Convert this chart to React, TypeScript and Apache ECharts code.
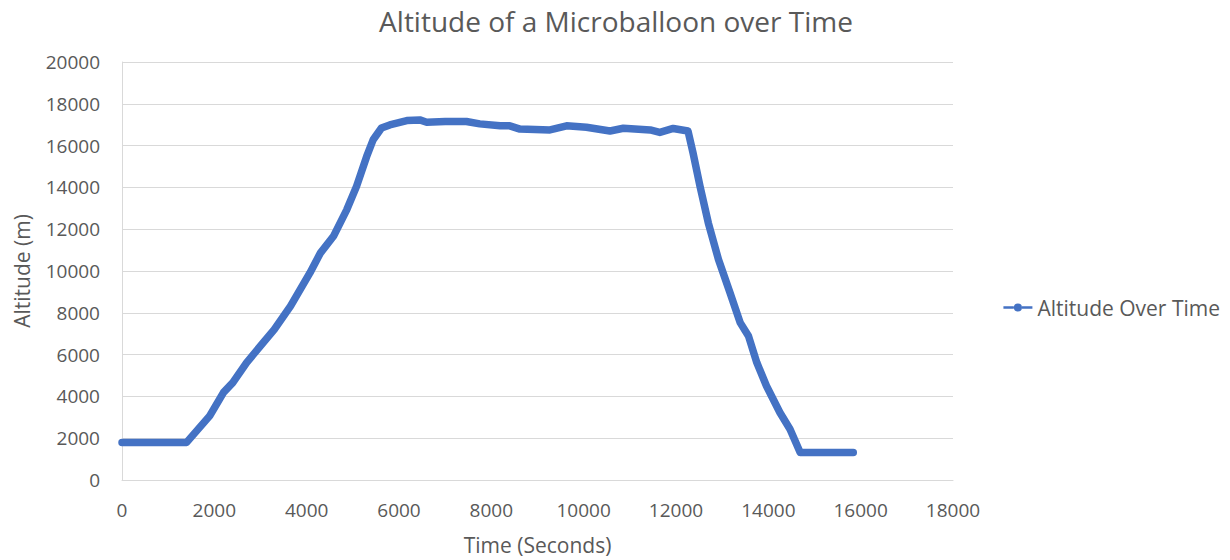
import React, { useEffect, useRef } from "react";
import * as echarts from "echarts";

const timeSeconds = [
  0, 700, 1400, 1900, 2200, 2400, 2700, 3300, 3650, 4070, 4300, 4580, 4870, 5080, 5300, 5440, 5620,
  5800, 6170, 6450, 6600, 7000, 7460, 7750, 8190, 8400, 8620, 9270, 9630, 10060, 10570, 10860, 11440,
  11650, 11940, 12260, 12370, 12520, 12700, 12920, 13170, 13390, 13570, 13750, 13960, 14250, 14470,
  14690, 15200, 15840,
];
const altitudeM = [
  1800, 1800, 1800, 3070, 4190, 4660, 5620, 7210, 8320, 9910, 10870, 11660, 12940, 14050, 15480, 16280,
  16840, 16990, 17200, 17230, 17120, 17150, 17150, 17040, 16945, 16945, 16790, 16750, 16945, 16880,
  16700, 16830, 16750, 16630, 16820, 16700, 15640, 14050, 12300, 10550, 8960, 7530, 6890, 5620, 4500,
  3230, 2430, 1320, 1320, 1320,
];
const seriesName = "Altitude Over Time";
const chartTitle = "Altitude of a Microballoon over Time";
const xName = "Time (Seconds)";
const yName = "Altitude (m)";

export default function App() {
  const ref = useRef<HTMLDivElement>(null);
  useEffect(() => {
    if (!ref.current) return;
    const chart = echarts.init(ref.current, undefined, { renderer: "svg" });
    const font = "'Open Sans', 'Noto Sans', sans-serif";
    const gray = "#595959";
    chart.setOption({
      animation: false,
      title: {
        text: chartTitle,
        left: 611,
        textAlign: "center",
        top: 2,
        textStyle: { fontFamily: font, fontSize: 28, fontWeight: "normal", color: gray },
      },
      legend: {
        right: 5,
        top: 292,
        orient: "vertical",
        itemWidth: 29,
        itemHeight: 10,
        itemGap: 4,
        textStyle: { fontFamily: font, fontSize: 21, color: gray },
        data: [
          {
            name: seriesName,
            icon: "path://M0,4.6 L3.6,4.6 L3.6,5.4 L0,5.4 Z M6.4,4.6 L10,4.6 L10,5.4 L6.4,5.4 Z M3.6,5 A1.4,1.4 0 1,1 6.4,5 A1.4,1.4 0 1,1 3.6,5 Z",
          },
        ],
      },
      grid: { left: 122, right: 277, top: 62, bottom: 79 },
      xAxis: {
        type: "value",
        min: 0,
        max: 18000,
        interval: 2000,
        name: xName,
        nameLocation: "middle",
        nameGap: 54,
        nameTextStyle: { fontFamily: font, fontSize: 21, color: gray },
        axisLine: { show: true, lineStyle: { color: "#d9d9d9", width: 1 } },
        axisTick: { show: false },
        splitLine: { show: false },
        axisLabel: {
          fontFamily: font,
          fontSize: 19,
          color: gray,
          margin: 20,
          formatter: (v: number) => String(v),
        },
      },
      yAxis: {
        type: "value",
        min: 0,
        max: 20000,
        interval: 2000,
        name: yName,
        nameLocation: "middle",
        nameGap: 90,
        nameTextStyle: { fontFamily: font, fontSize: 21, color: gray },
        axisLine: { show: true, lineStyle: { color: "#d9d9d9", width: 1 } },
        axisTick: { show: false },
        splitLine: { show: true, lineStyle: { color: "#d9d9d9", width: 1 } },
        axisLabel: {
          fontFamily: font,
          fontSize: 19,
          color: gray,
          margin: 22,
          formatter: (v: number) => String(v),
        },
      },
      series: [
        {
          name: seriesName,
          type: "line",
          data: timeSeconds.map((t, i) => [t, altitudeM[i]]),
          showSymbol: false,
          symbol: "circle",
          lineStyle: { color: "#4472C4", width: 7.5, cap: "round", join: "round" },
          itemStyle: { color: "#4472C4" },
        },
      ],
    });
    return () => chart.dispose();
  }, []);
  return (
    <div
      ref={ref}
      style={{ position: "absolute", left: 0, top: 0, width: 1230, height: 560, background: "#fff" }}
    />
  );
}
